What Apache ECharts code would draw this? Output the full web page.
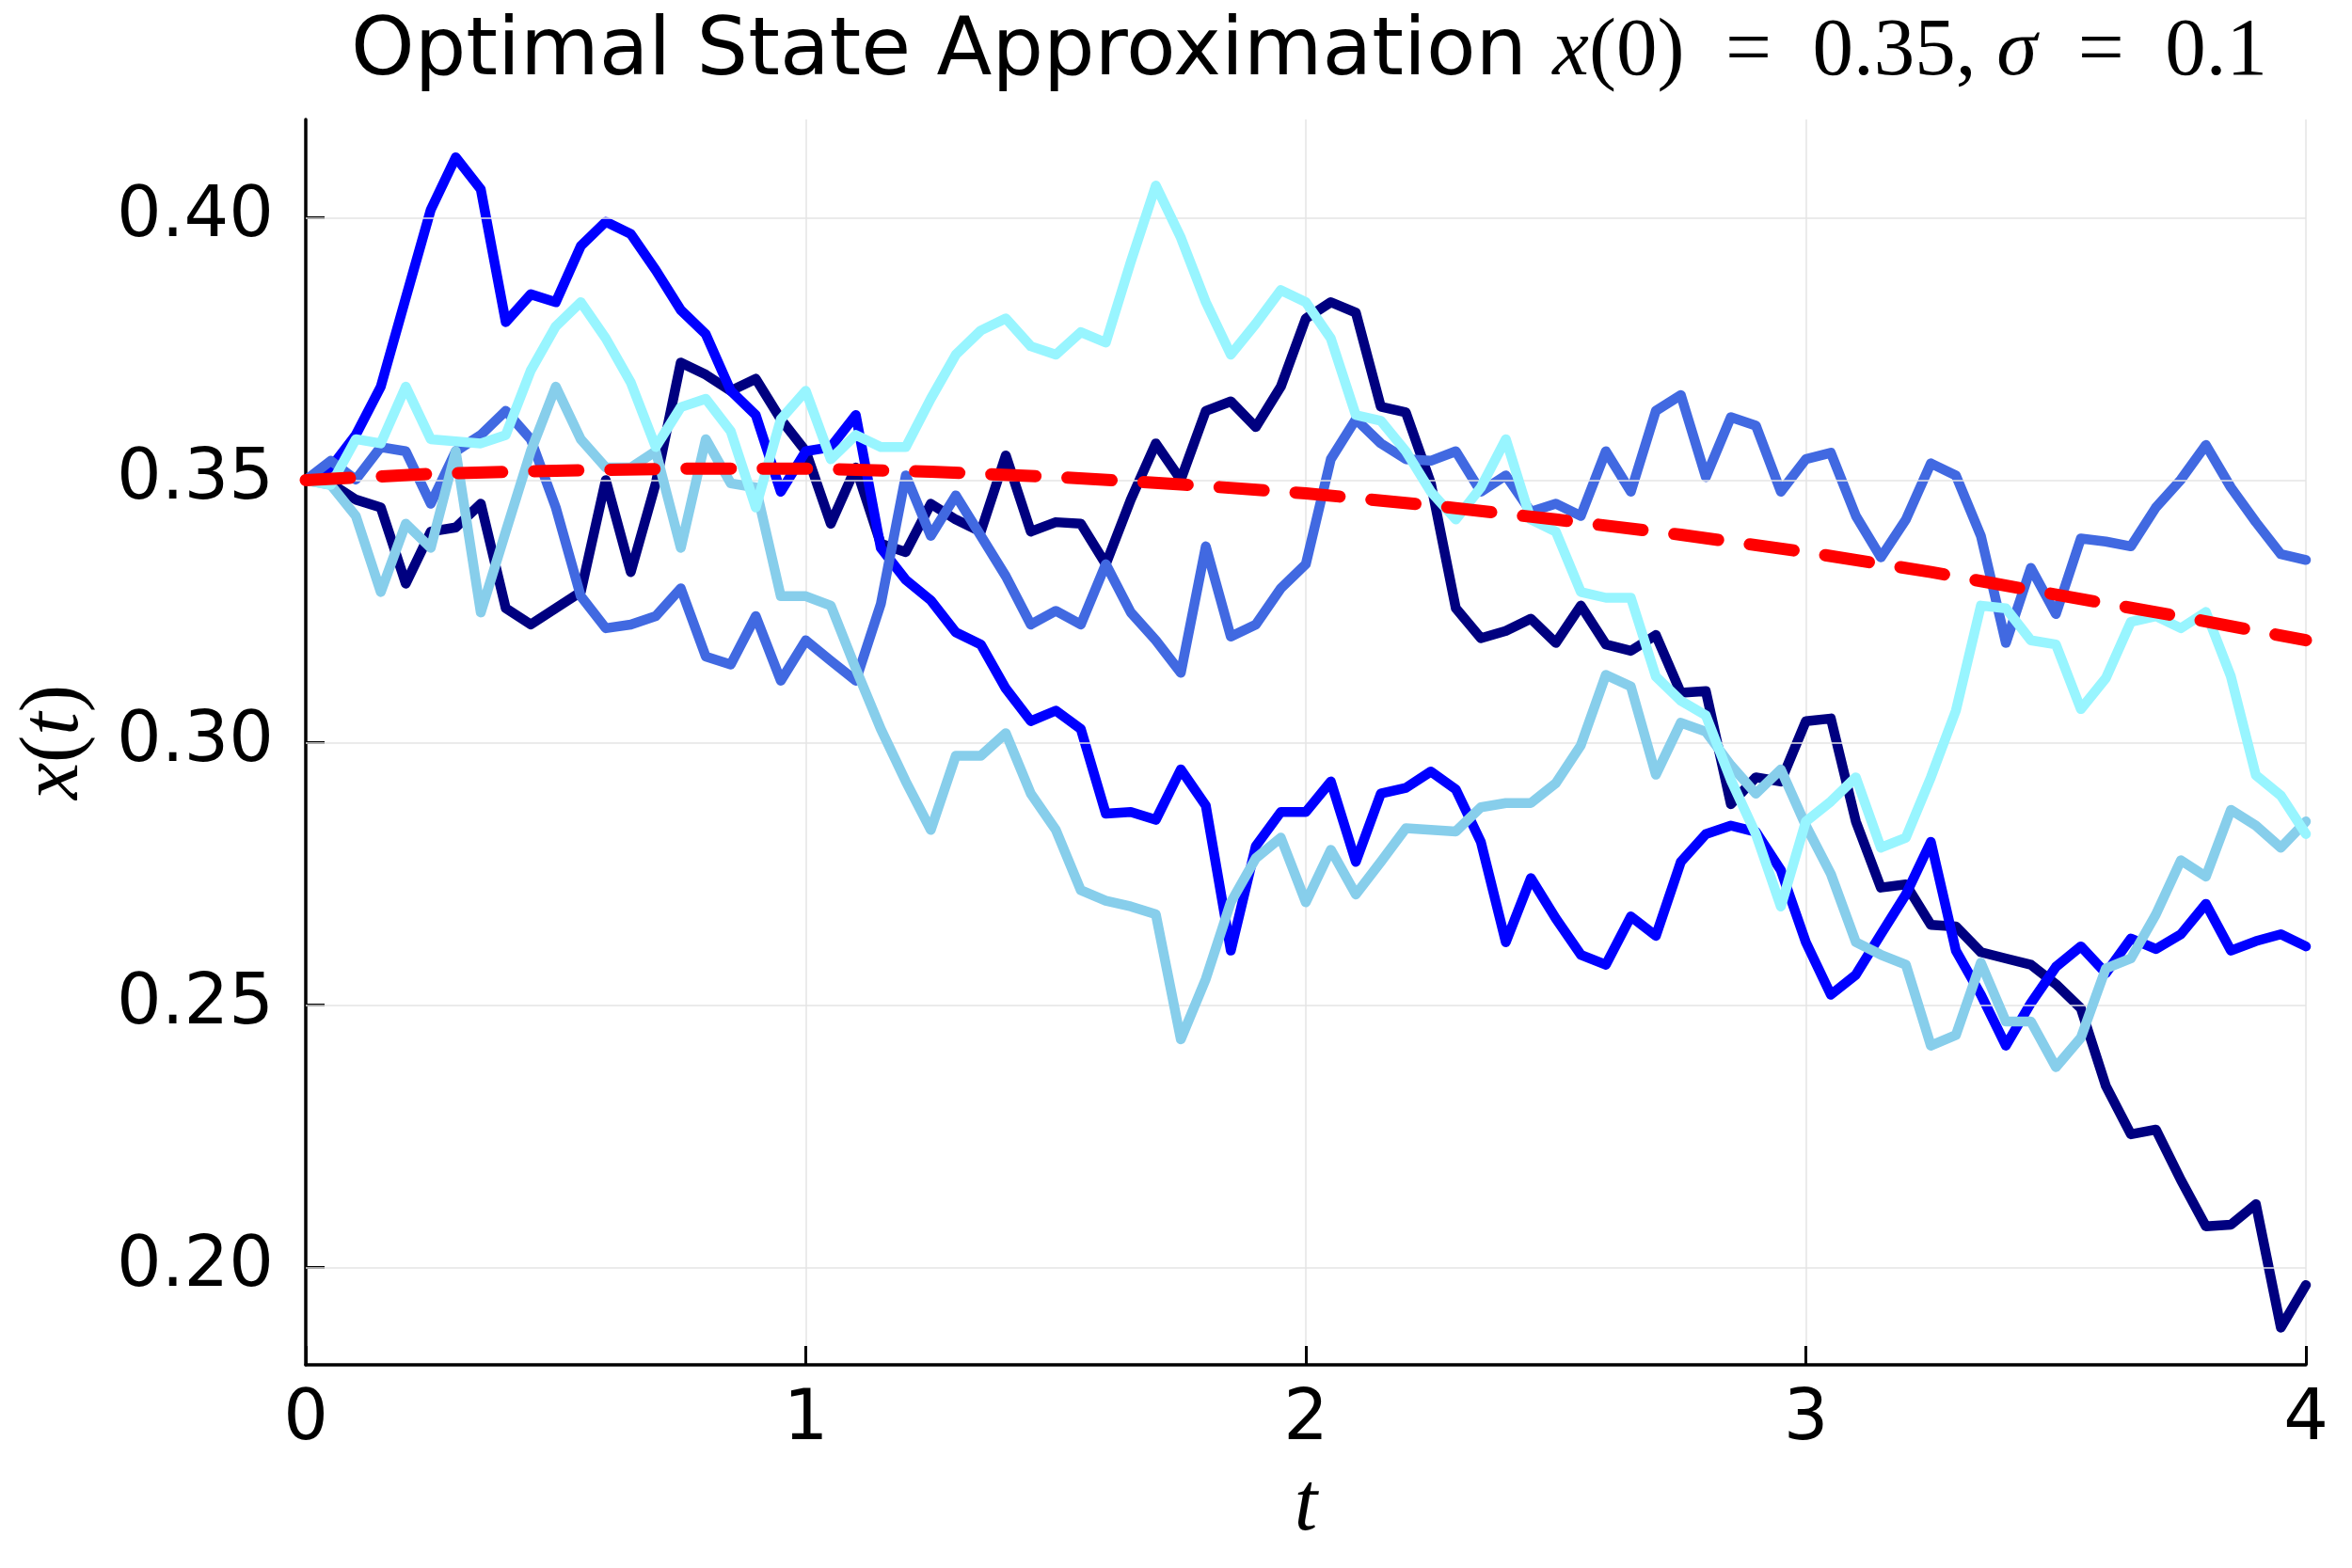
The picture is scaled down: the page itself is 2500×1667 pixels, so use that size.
<!DOCTYPE html>
<html>
<head>
<meta charset="utf-8">
<script src="https://cdn.jsdelivr.net/npm/echarts@6/dist/echarts.min.js"></script>
<style>
  html, body { margin: 0; padding: 0; background: #fff; }
  #chart { width: 2500px; height: 1667px; }
</style>
</head>
<body>
<div id="chart"></div>
<script>
// time step of the simulated paths
const dt = 0.05;

// five sample paths, one value every dt from t = 0 to t = 4
const pathNavy = [
  0.3500, 0.3494, 0.3463, 0.3448, 0.3303, 0.3402, 0.3410, 0.3455, 0.3256, 0.3225,
  0.3256, 0.3287, 0.3500, 0.3325, 0.3494, 0.3724, 0.3701, 0.3670, 0.3693, 0.3616,
  0.3555, 0.3417, 0.3524, 0.3379, 0.3363, 0.3455, 0.3425, 0.3402, 0.3547, 0.3402,
  0.3420, 0.3417, 0.3340, 0.3463, 0.3570, 0.3501, 0.3632, 0.3650, 0.3601, 0.3678,
  0.3808, 0.3839, 0.3819, 0.3640, 0.3629, 0.3494, 0.3256, 0.3199, 0.3213, 0.3236,
  0.3190, 0.3261, 0.3187, 0.3175, 0.3205, 0.3095, 0.3098, 0.2883, 0.2934, 0.2926,
  0.3041, 0.3046, 0.2850, 0.2724, 0.2730, 0.2653, 0.2650, 0.2601, 0.2589, 0.2577,
  0.2540, 0.2494, 0.2346, 0.2254, 0.2263, 0.2167, 0.2079, 0.2082, 0.2121, 0.1886,
  0.1967
];
const pathBlue = [
  0.3500, 0.3524, 0.3586, 0.3678, 0.3847, 0.4015, 0.4115, 0.4054, 0.3801, 0.3854,
  0.3839, 0.3946, 0.3992, 0.3969, 0.3900, 0.3824, 0.3778, 0.3670, 0.3624, 0.3478,
  0.3555, 0.3563, 0.3624, 0.3371, 0.3310, 0.3271, 0.3210, 0.3187, 0.3103, 0.3041,
  0.3061, 0.3026, 0.2865, 0.2868, 0.2853, 0.2949, 0.2880, 0.2604, 0.2803, 0.2868,
  0.2868, 0.2926, 0.2773, 0.2903, 0.2914, 0.2945, 0.2911, 0.2811, 0.2620, 0.2742,
  0.2665, 0.2596, 0.2577, 0.2669, 0.2632, 0.2773, 0.2826, 0.2842, 0.2830, 0.2757,
  0.2620, 0.2520, 0.2558, 0.2635, 0.2711, 0.2811, 0.2604, 0.2520, 0.2423, 0.2504,
  0.2573, 0.2612, 0.2561, 0.2627, 0.2607, 0.2635, 0.2693, 0.2604, 0.2622, 0.2635,
  0.2612
];
const pathRoyal = [
  0.3500, 0.3537, 0.3501, 0.3563, 0.3555, 0.3455, 0.3555, 0.3586, 0.3632, 0.3578,
  0.3448, 0.3279, 0.3218, 0.3225, 0.3241, 0.3294, 0.3164, 0.3149, 0.3241, 0.3118,
  0.3195, 0.3156, 0.3118, 0.3264, 0.3509, 0.3394, 0.3471, 0.3394, 0.3317, 0.3225,
  0.3251, 0.3225, 0.3340, 0.3248, 0.3195, 0.3133, 0.3374, 0.3202, 0.3225, 0.3294,
  0.3340, 0.3540, 0.3616, 0.3570, 0.3540, 0.3537, 0.3555, 0.3478, 0.3509, 0.3440,
  0.3455, 0.3432, 0.3555, 0.3478, 0.3632, 0.3662, 0.3506, 0.3620, 0.3604, 0.3478,
  0.3540, 0.3552, 0.3432, 0.3353, 0.3425, 0.3532, 0.3509, 0.3394, 0.3190, 0.3333,
  0.3245, 0.3389, 0.3383, 0.3374, 0.3448, 0.3501, 0.3567, 0.3486, 0.3420, 0.3359,
  0.3348
];
const pathSky = [
  0.3500, 0.3491, 0.3432, 0.3287, 0.3417, 0.3371, 0.3555, 0.3248, 0.3402, 0.3555,
  0.3678, 0.3578, 0.3524, 0.3524, 0.3555, 0.3371, 0.3578, 0.3494, 0.3486, 0.3279,
  0.3279, 0.3261, 0.3141, 0.3026, 0.2926, 0.2834, 0.2975, 0.2975, 0.3018, 0.2903,
  0.2834, 0.2719, 0.2699, 0.2688, 0.2673, 0.2435, 0.2550, 0.2696, 0.2780, 0.2819,
  0.2696, 0.2796, 0.2711, 0.2773, 0.2837, 0.2834, 0.2831, 0.2877, 0.2885, 0.2885,
  0.2923, 0.2995, 0.3129, 0.3107, 0.2939, 0.3038, 0.3021, 0.2957, 0.2903, 0.2949,
  0.2842, 0.2750, 0.2620, 0.2596, 0.2577, 0.2423, 0.2443, 0.2581, 0.2469, 0.2469,
  0.2382, 0.2438, 0.2570, 0.2589, 0.2673, 0.2776, 0.2745, 0.2872, 0.2842, 0.2800,
  0.2850
];
const pathCyan = [
  0.3500, 0.3491, 0.3578, 0.3570, 0.3678, 0.3578, 0.3574, 0.3570, 0.3586, 0.3709,
  0.3793, 0.3839, 0.3770, 0.3686, 0.3563, 0.3639, 0.3655, 0.3593, 0.3448, 0.3616,
  0.3670, 0.3540, 0.3586, 0.3563, 0.3563, 0.3655, 0.3739, 0.3785, 0.3808, 0.3755,
  0.3739, 0.3782, 0.3762, 0.3916, 0.4061, 0.3962, 0.3839, 0.3739, 0.3798, 0.3862,
  0.3839, 0.3770, 0.3624, 0.3613, 0.3555, 0.3478, 0.3425, 0.3486, 0.3578, 0.3425,
  0.3402, 0.3287, 0.3276, 0.3276, 0.3126, 0.3080, 0.3052, 0.2929, 0.2826, 0.2688,
  0.2850, 0.2888, 0.2934, 0.2800, 0.2819, 0.2934, 0.3061, 0.3261, 0.3256, 0.3195,
  0.3187, 0.3064, 0.3123, 0.3230, 0.3241, 0.3218, 0.3249, 0.3126, 0.2938, 0.2899,
  0.2826
];

// optimal (mean) state, read every 0.25
const refT = [0, 0.25, 0.5, 0.75, 1, 1.25, 1.5, 1.75, 2, 2.25, 2.5, 2.75, 3, 3.25, 3.5, 3.75, 4];
const refX = [0.3500, 0.3512, 0.3518, 0.3522, 0.3522, 0.3516, 0.3506, 0.3492, 0.3475,
              0.3452, 0.3425, 0.3396, 0.3363, 0.3325, 0.3282, 0.3240, 0.3195];

const yTicks = [0.20, 0.25, 0.30, 0.35, 0.40];

const pathColors = ['#000080', '#0000ff', '#4169e1', '#87ceeb', '#98f5ff'];
const paths = [pathNavy, pathBlue, pathRoyal, pathSky, pathCyan];

const toPairs = (vals) => vals.map((v, i) => [i * dt, v]);

const chart = echarts.init(document.getElementById('chart'));

const series = [
  {
    // horizontal grid lines at the labelled y values
    type: 'line',
    data: [],
    z: 1,
    silent: true,
    markLine: {
      silent: true,
      symbol: ['none', 'none'],
      label: { show: false },
      lineStyle: { type: 'solid', color: '#e4e4e4', width: 1.5 },
      data: yTicks.map(v => ({ yAxis: v }))
    }
  }
];

paths.forEach((p, k) => {
  series.push({
    type: 'line',
    data: toPairs(p),
    showSymbol: false,
    z: 2 + k,
    lineStyle: { color: pathColors[k], width: 10.5, cap: 'round', join: 'round' }
  });
});

series.push({
  type: 'line',
  data: refT.map((t, i) => [t, refX[i]]),
  showSymbol: false,
  z: 10,
  lineStyle: { color: '#ff0000', width: 13, type: [47, 34], cap: 'round', join: 'round' }
});

chart.setOption({
  animation: false,
  backgroundColor: '#ffffff',
  title: {
    left: 368,
    top: 8,
    text: '{a|Optimal State Approximation }{i|x}{n|(0)\u2002=\u20020.35, }{i|σ}{n|\u2002=\u20020.1}',
    textStyle: {
      fontWeight: 'normal',
      rich: {
        a: { fontFamily: 'DejaVu Sans', fontWeight: 'normal', fontSize: 86, color: '#000' },
        i: { fontFamily: 'Liberation Serif', fontStyle: 'italic', fontWeight: 'normal', fontSize: 87, color: '#000' },
        n: { fontFamily: 'Liberation Serif', fontWeight: 'normal', fontSize: 87, color: '#000' }
      }
    }
  },
  grid: { left: 325, right: 49, top: 127, bottom: 216 },
  xAxis: {
    type: 'value',
    min: 0,
    max: 4,
    interval: 1,
    name: '{i|t}',
    nameLocation: 'middle',
    nameGap: 108,
    nameTextStyle: {
      rich: { i: { fontFamily: 'Liberation Serif', fontStyle: 'italic', fontSize: 88, color: '#000' } }
    },
    axisLine: { lineStyle: { color: '#000', width: 3.5 } },
    axisTick: { inside: true, length: 20, lineStyle: { color: '#000', width: 3 } },
    axisLabel: {
      margin: 22,
      fontFamily: 'DejaVu Sans',
      fontSize: 75,
      color: '#000',
      formatter: v => String(v)
    },
    splitLine: { show: true, lineStyle: { color: '#e4e4e4', width: 1.5 } }
  },
  yAxis: {
    type: 'value',
    min: 0.1815,
    max: 0.4187,
    name: '{i|x}{n|(}{i|t}{n|)}',
    nameLocation: 'middle',
    nameRotate: 90,
    nameGap: 222,
    nameTextStyle: {
      rich: {
        i: { fontFamily: 'Liberation Serif', fontStyle: 'italic', fontSize: 88, color: '#000' },
        n: { fontFamily: 'Liberation Serif', fontSize: 88, color: '#000' }
      }
    },
    axisLine: { show: true, lineStyle: { color: '#000', width: 3.5 } },
    axisTick: {
      show: true,
      inside: true,
      length: 20,
      customValues: yTicks,
      lineStyle: { color: '#000', width: 3 }
    },
    axisLabel: {
      margin: 34,
      fontFamily: 'DejaVu Sans',
      fontSize: 75,
      color: '#000',
      customValues: yTicks,
      formatter: v => v.toFixed(2)
    },
    splitLine: { show: false }
  },
  series: series
});
</script>
</body>
</html>
